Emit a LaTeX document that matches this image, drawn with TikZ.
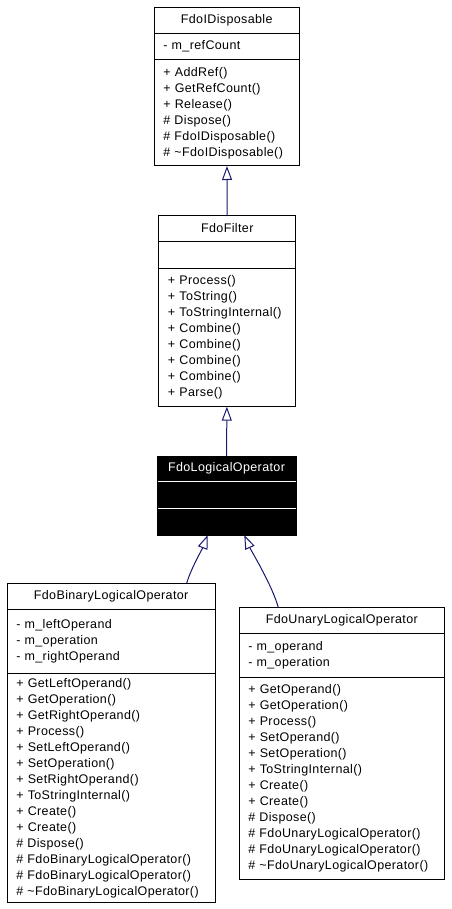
\documentclass[tikz,border=0pt]{standalone}
\usepackage{fontspec}
\setmainfont{Liberation Sans}[LetterSpace=3]
\usetikzlibrary{arrows.meta, positioning}
\definecolor{edgeblue}{RGB}{25, 25, 112}

\begin{document}
\begin{tikzpicture}[
  x=1pt, y=-1pt,
  head/.style={rectangle, draw, line width=1pt, inner sep=0pt, outer sep=0pt, font=\fontsize{12.5}{16}\selectfont},
  comp/.style={head, align=left, inner xsep=9pt, anchor=north},
  inv/.style={fill=black, text=white},
  gen/.style={-{Triangle[open, length=14pt, width=10pt]}, draw=edgeblue, line width=1pt}
]
  \useasboundingbox (0,0) rectangle (451,909);

  % FdoIDisposable
  \node[head, minimum width=144.7pt, minimum height=26pt, anchor=north] (disp) at (226.7,7.3) {FdoIDisposable};
  \node[comp, text width=126.7pt, minimum height=26.7pt, below=0pt of disp] (disp-attr) {- m\_refCount};
  \node[comp, text width=126.7pt, minimum height=106pt, below=0pt of disp-attr] (disp-meth)
    {+ AddRef()\\+ GetRefCount()\\+ Release()\\\# Dispose()\\\# FdoIDisposable()\\\# \textasciitilde FdoIDisposable()};

  % FdoFilter
  \node[head, minimum width=136.7pt, minimum height=25pt, anchor=north] (fil) at (227.3,216) {FdoFilter};
  \node[comp, text width=118.7pt, minimum height=27.3pt, below=0pt of fil] (fil-attr) {};
  \node[comp, text width=118.7pt, minimum height=138.4pt, below=0pt of fil-attr] (fil-meth)
    {+ Process()\\+ ToString()\\+ ToStringInternal()\\+ Combine()\\+ Combine()\\+ Combine()\\+ Combine()\\+ Parse()};

  % FdoLogicalOperator
  \node[head, inv, minimum width=139pt, minimum height=25pt, anchor=north] (lop) at (226.5,456) {FdoLogicalOperator};
  \node[comp, inv, text width=121pt, minimum height=27pt, below=0pt of lop] (lop-attr) {};
  \node[comp, inv, text width=121pt, minimum height=27pt, below=0pt of lop-attr] (lop-meth) {};
  \draw[white, line width=1pt] ([xshift=0.5pt]lop.south west) -- ([xshift=-0.5pt]lop.south east);
  \draw[white, line width=1pt] ([xshift=0.5pt]lop-attr.south west) -- ([xshift=-0.5pt]lop-attr.south east);

  % FdoBinaryLogicalOperator
  \node[head, minimum width=207.7pt, minimum height=26pt, anchor=north] (bin) at (111.15,583.3) {FdoBinaryLogicalOperator};
  \node[comp, text width=189.7pt, minimum height=64pt, below=0pt of bin] (bin-attr)
    {- m\_leftOperand\\- m\_operation\\- m\_rightOperand};
  \node[comp, text width=189.7pt, minimum height=229.4pt, below=0pt of bin-attr] (bin-meth)
    {+ GetLeftOperand()\\+ GetOperation()\\+ GetRightOperand()\\+ Process()\\+ SetLeftOperand()\\+ SetOperation()\\+ SetRightOperand()\\+ ToStringInternal()\\+ Create()\\+ Create()\\\# Dispose()\\\# FdoBinaryLogicalOperator()\\\# FdoBinaryLogicalOperator()\\\# \textasciitilde FdoBinaryLogicalOperator()};

  % FdoUnaryLogicalOperator
  \node[head, minimum width=205pt, minimum height=25.8pt, anchor=north] (una) at (341.8,607.5) {FdoUnaryLogicalOperator};
  \node[comp, text width=187pt, minimum height=43.7pt, below=0pt of una] (una-attr)
    {- m\_operand\\- m\_operation};
  \node[comp, text width=187pt, minimum height=202pt, below=0pt of una-attr] (una-meth)
    {+ GetOperand()\\+ GetOperation()\\+ Process()\\+ SetOperand()\\+ SetOperation()\\+ ToStringInternal()\\+ Create()\\+ Create()\\\# Dispose()\\\# FdoUnaryLogicalOperator()\\\# FdoUnaryLogicalOperator()\\\# \textasciitilde FdoUnaryLogicalOperator()};

  % Inheritance
  \draw[gen] (fil) -- (disp-meth);
  \draw[gen] (lop) -- (fil-meth);
  \draw[gen] ([xshift=75.5pt]bin.north) .. controls +(4,-14) and +(-5,13) .. ([xshift=-18.8pt]lop-meth.south);
  \draw[gen] ([xshift=-63.5pt]una.north) .. controls +(-6,-22) and +(7,16) .. ([xshift=17.8pt]lop-meth.south);
\end{tikzpicture}
\end{document}
